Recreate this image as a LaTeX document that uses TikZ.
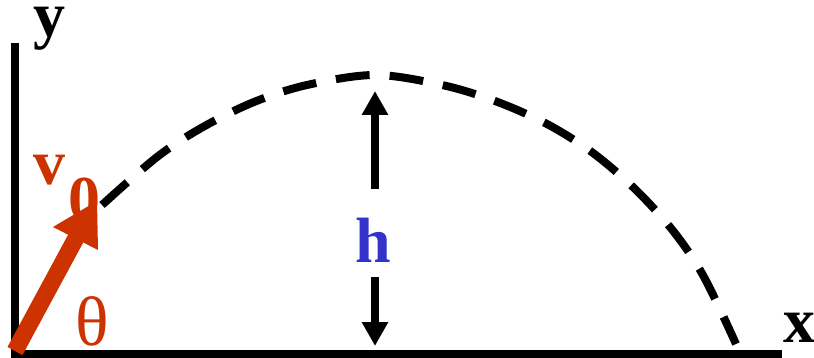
\documentclass[tikz,border=0pt]{standalone}
\usepackage{fontspec}
\setmainfont{Liberation Serif}
\usetikzlibrary{arrows.meta}
\definecolor{vred}{HTML}{CC3300}
\definecolor{hblue}{HTML}{3333CC}
\begin{document}
\begin{tikzpicture}[x=1pt,y=-1pt,
  lbl/.style={inner sep=0pt, anchor=base, font=\fontsize{64}{64}\selectfont\bfseries},
  axis/.style={line width=8pt, line cap=butt},
  harrow/.style={line width=8pt, -{Triangle[length=24pt,width=25pt]}},
  vshaft/.style={vred, line width=17pt},
  vhead/.style={fill=vred},
  traj/.style={line width=8pt, dash pattern=on 34pt off 20pt}]
\useasboundingbox (0,0) rectangle (814,358);
% axes
\coordinate (ytop) at (15,43);
\coordinate (origin) at (15,354);
\coordinate (xend) at (782,354);
\draw[axis] (ytop) -- (origin) -- (xend);
\node[lbl, text height=30pt, text depth=14pt] (ylab) at (49,37) {y};
\node[lbl, text height=30pt, text depth=0pt] (xlab) at (799,342) {x};
% trajectory
\draw[traj] plot[smooth, tension=0.55] coordinates {(102,205) (157,157) (203,127) (254,102) (307,85) (375,75) (442,85) (495,101) (547,124) (593,153) (636,190) (674,232) (704,277) (736,344)};
% height
\node[lbl, text=hblue] (h) at (373,262) {h};
\coordinate (hupS) at (375,189);
\coordinate (hupT) at (375,91);
\coordinate (hdnS) at (375,277);
\coordinate (hdnT) at (375,346);
\draw[harrow] (hupS) -- (hupT);
\draw[harrow] (hdnS) -- (hdnT);
% initial velocity
\node[lbl, text=vred] (v) at (50,185) {v};
\node[lbl, text=vred] (sub) at (84,221) {0};
\coordinate (vtail) at (15,351);
\coordinate (vbase) at (76,238);
\coordinate (headL) at (53,227);
\coordinate (headR) at (98,250);
\coordinate (vtip) at (97,201);
\draw[vshaft] (vtail) -- (vbase);
\fill[vhead] (headL) -- (vtip) -- (headR) -- cycle;
\node[inner sep=0pt, anchor=base, text=vred, text height=48pt, text depth=1pt, font=\fontsize{70}{70}\selectfont] (theta) at (92,345) {θ};
\end{tikzpicture}
\end{document}
